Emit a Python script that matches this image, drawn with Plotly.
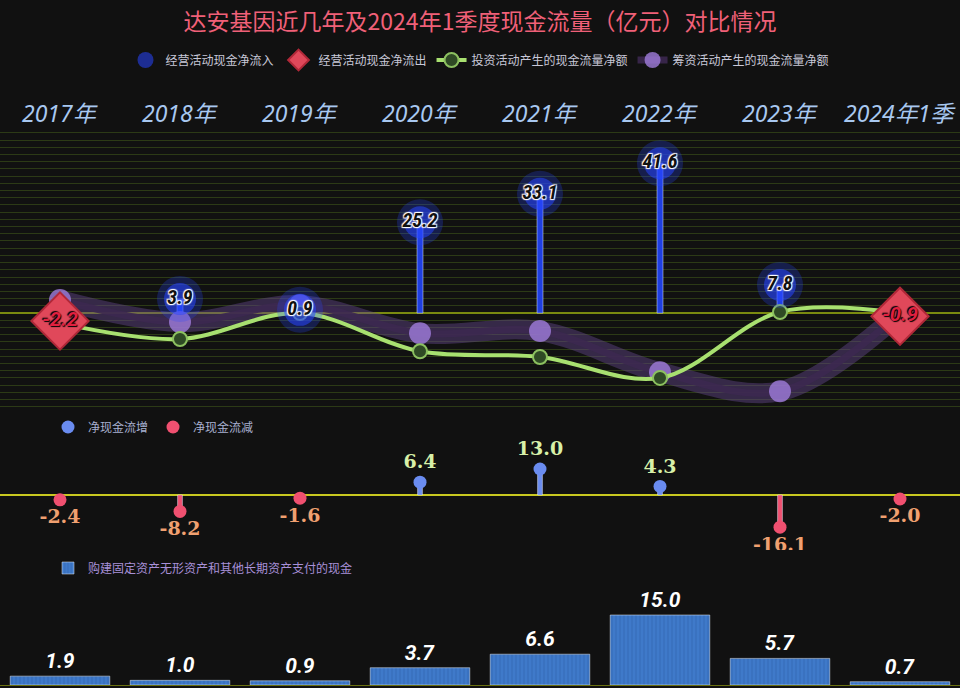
import plotly.graph_objects as go

years = ["2017年", "2018年", "2019年", "2020年", "2021年", "2022年", "2023年", "2024年1季"]
operating = [-2.2, 3.9, 0.9, 25.2, 33.1, 41.6, 7.8, -0.9]
investing_pos = [-2.8, -7.2, 0.0, -10.6, -12.2, -18.0, 0.3, 0.0]
financing_pos = [3.6, -2.5, 2.2, -5.6, -5.0, -16.4, -21.7, 0.0]
net_change = [-2.4, -8.2, -1.6, 6.4, 13.0, 4.3, -16.1, -2.0]
capex = [1.9, 1.0, 0.9, 3.7, 6.6, 15.0, 5.7, 0.7]

FONT = "Noto Sans CJK SC"
H = 688

def dom(top_px, bottom_px):
    return [1 - bottom_px / H, 1 - top_px / H]

fig = go.Figure()

# 顶部：经营活动现金流 + 投资/筹资
pos_x = [y for y, v in zip(years, operating) if v >= 0]
pos_v = [v for v in operating if v >= 0]
neg_x = [y for y, v in zip(years, operating) if v < 0]
neg_v = [v for v in operating if v < 0]

fig.add_trace(go.Bar(x=pos_x, y=pos_v, width=0.05, marker_color="#1f3fe0",
                     showlegend=False, hoverinfo="skip", xaxis="x", yaxis="y"))

# 筹资活动：紫色带
fig.add_trace(go.Scatter(x=years, y=financing_pos, mode="lines", line=dict(shape="spline", width=20, color="rgba(100,70,140,0.45)"),
                         showlegend=False, hoverinfo="skip"))
fig.add_trace(go.Scatter(x=years, y=financing_pos, mode="lines+markers", name="筹资活动产生的现金流量净额",
                         line=dict(shape="spline", width=7, color="rgba(60,40,80,0.9)"),
                         marker=dict(size=22, color="rgba(160,125,220,0.8)"), legend="legend", legendrank=4))
# 投资活动：绿色线
fig.add_trace(go.Scatter(x=years, y=investing_pos, mode="lines+markers", name="投资活动产生的现金流量净额",
                         line=dict(shape="spline", width=4, color="#a8e070"),
                         marker=dict(size=14, color="#2f4a25", line=dict(color="#8cc060", width=2)),
                         legend="legend", legendrank=3))

# 发光标签
fig.add_trace(go.Scatter(x=pos_x, y=pos_v, mode="markers", marker=dict(size=46, color="rgba(40,70,255,0.25)"),
                         showlegend=False, hoverinfo="skip"))
fig.add_trace(go.Scatter(x=pos_x, y=pos_v, mode="markers+text", name="经营活动现金净流入",
                         marker=dict(size=32, symbol="circle", color="rgba(40,70,255,0.55)"),
                         text=[f"{v:.1f}" for v in pos_v], textposition="middle center",
                         textfont=dict(family="Roboto Condensed, Liberation Sans Narrow, Roboto", size=20, color="#111",
                                       style="italic", weight="bold", shadow="1px 1px 1px #fff, -1px -1px 1px #fff, 1px -1px 1px #fff, -1px 1px 1px #fff"),
                         legend="legend", legendrank=1))
fig.add_trace(go.Scatter(x=neg_x, y=neg_v, mode="markers+text", name="经营活动现金净流出",
                         marker=dict(size=44, symbol="diamond", color="#e0485a", line=dict(color="#b02838", width=2)),
                         text=[f"{v:.1f}" for v in neg_v], textposition="middle center",
                         textfont=dict(family="Liberation Sans Narrow, Roboto", size=20, color="#e02040",
                                       style="italic", weight="bold", shadow="1px 1px 1px #000, -1px -1px 1px #000"),
                         legend="legend", legendrank=2))

# 中部：净现金流
inc_x = [y for y, v in zip(years, net_change) if v >= 0]
inc_v = [v for v in net_change if v >= 0]
dec_x = [y for y, v in zip(years, net_change) if v < 0]
dec_v = [v for v in net_change if v < 0]
fig.add_trace(go.Bar(x=inc_x, y=inc_v, width=0.04, marker_color="#6a8cf0", showlegend=False,
                     hoverinfo="skip", xaxis="x2", yaxis="y2"))
fig.add_trace(go.Bar(x=dec_x, y=dec_v, width=0.04, marker_color="#f05070", showlegend=False,
                     hoverinfo="skip", xaxis="x2", yaxis="y2"))
fig.add_trace(go.Scatter(x=inc_x, y=inc_v, mode="markers+text", name="净现金流增", xaxis="x2", yaxis="y2",
                         marker=dict(size=13, color="#6a8cf0"), text=[f"{v:.1f}" for v in inc_v],
                         textposition="top center",
                         textfont=dict(family="DejaVu Serif", size=19, color="#d8f0a8", weight="bold"), legend="legend2"))
fig.add_trace(go.Scatter(x=dec_x, y=dec_v, mode="markers+text", name="净现金流减", xaxis="x2", yaxis="y2",
                         marker=dict(size=13, color="#f05070"), text=[f"{v:.1f}" for v in dec_v],
                         textposition="bottom center",
                         textfont=dict(family="DejaVu Serif", size=19, color="#f0a070", weight="bold"), legend="legend2"))

# 底部：购建长期资产
fig.add_trace(go.Bar(x=years, y=capex, width=0.83, name="购建固定资产无形资产和其他长期资产支付的现金",
                     marker=dict(color="#3a72c0", pattern=dict(shape="|", fgcolor="#4a8ae0", size=4, solidity=0.3)),
                     text=[f"{v:.1f}" for v in capex], textposition="outside", cliponaxis=False,
                     textfont=dict(family="Liberation Sans Narrow, Roboto", size=21, color="#fff",
                                   style="italic", weight="bold"),
                     xaxis="x3", yaxis="y3", legend="legend3"))

# 年份标签
for yr in years:
    fig.add_annotation(x=yr, y=1 - 95 / H, xref="x", yref="paper", text=yr, showarrow=False,
                       font=dict(family="Noto Sans, " + FONT, size=23, color="#a8c8f0", style="italic"))

xa = dict(range=[-0.5, 7.5], showgrid=False, showticklabels=False, zeroline=False,
          type="category", categoryarray=years, ticks="")
fig.update_layout(
    width=960, height=688, margin=dict(l=0, r=0, t=0, b=0),
    paper_bgcolor="#111111", plot_bgcolor="#111111",
    font=dict(family=FONT, color="#c0c0d0"),
    title=dict(text="达安基因近几年及2024年1季度现金流量（亿元）对比情况", x=0.5, y=1 - 22 / H,
               xanchor="center", yanchor="middle", font=dict(size=23, color="#f06078", family=FONT)),
    barmode="overlay",
    xaxis=dict(xa, anchor="y"),
    yaxis=dict(domain=dom(130, 410), range=[-26.9, 50.8], dtick=2, gridcolor="#2c3a16", gridwidth=1,
               zeroline=True, zerolinecolor="#7a8a10", showticklabels=False),
    xaxis2=dict(xa, anchor="y2"),
    yaxis2=dict(domain=dom(440, 550), range=[-27.5, 27.5], showgrid=False, zeroline=True,
                zerolinecolor="#c8c820", zerolinewidth=1.5, showticklabels=False),
    xaxis3=dict(xa, anchor="y3", showline=True, linecolor="#6a7010"),
    yaxis3=dict(domain=dom(580, 685), range=[0, 22.5], showgrid=False, zeroline=False, showticklabels=False),
    legend=dict(orientation="h", x=0.5, xanchor="center", y=1 - 60 / H, yanchor="middle",
                font=dict(size=12, color="#c8c8d8"), bgcolor="rgba(0,0,0,0)", itemwidth=30,
                traceorder="normal"),
    legend2=dict(orientation="h", x=0.05, y=1 - 427 / H, yanchor="middle", font=dict(size=12, color="#a8b0d0"),
                 bgcolor="rgba(0,0,0,0)"),
    legend3=dict(orientation="h", x=0.05, y=1 - 568 / H, yanchor="middle", font=dict(size=12, color="#a890d8"),
                 bgcolor="rgba(0,0,0,0)"),
)

fig.write_html("out.html", config={"displayModeBar": False},
               post_script="document.body.style.margin='0';document.body.style.background='#111111';")
